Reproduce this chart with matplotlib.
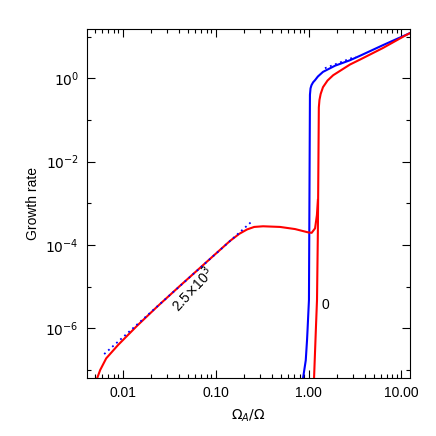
import matplotlib
matplotlib.use('Agg')
import matplotlib.pyplot as plt
import numpy as np
from matplotlib.ticker import NullFormatter, FixedLocator

plt.rcParams['font.family'] = ['Liberation Sans', 'DejaVu Sans']

# red curve, low-frequency branch (Omega_A/Omega, growth rate)
red_lo_x = [0.0050, 0.00532, 0.00573, 0.00665, 0.00895, 0.0143, 0.0235, 0.0415, 0.068,
            0.143, 0.18, 0.218, 0.26, 0.324, 0.494, 0.716, 0.989, 1.08, 1.175, 1.23, 1.26]
red_lo_y = [3e-8, 6.4e-8, 1.0e-7, 1.9e-7, 4.0e-7, 1.15e-6, 3.3e-6, 1.05e-5, 2.82e-5,
            1.25e-4, 1.85e-4, 2.35e-4, 2.7e-4, 2.8e-4, 2.7e-4, 2.4e-4, 2.0e-4, 1.95e-4,
            2.5e-4, 5.2e-4, 1.2e-3]

# red curve, high branch
red_hi_x = [1.13, 1.146, 1.20, 1.233, 1.26, 1.29, 1.31, 1.35, 1.43, 1.6, 1.84, 2.79, 3.58,
            6.3, 10.9, 12.3]
red_hi_y = [3e-8, 6.4e-8, 1e-6, 4.8e-6, 2.2e-4, 0.2, 0.3, 0.42, 0.61, 0.88, 1.18, 2.13, 2.8,
            5.3, 10.5, 12.0]

# blue curve
blue_x = [0.86, 0.873, 0.933, 0.963, 0.975, 1.01, 1.035, 1.05, 1.075, 1.12, 1.175, 1.26,
          1.43, 1.93, 2.79, 3.58, 6.3, 10.9, 12.3]
blue_y = [3e-8, 6.4e-8, 1.7e-7, 5.2e-7, 9e-7, 4.8e-6, 0.4, 0.57, 0.68, 0.8, 0.9, 1.1,
          1.42, 2.0, 2.7, 3.46, 6.2, 10.7, 12.1]

# asymptotes (dotted)
asym_lo_x = [0.00632, 0.253]
asym_lo_y = [2.4e-7, 3.9e-4]
asym_hi_x = [1.50, 3.2]
asym_hi_y = [1.74, 3.3]

xticks = [0.01, 0.1, 1.0, 10.0]
xticklabels = ['0.01', '0.10', '1.00', '10.00']
yticks = [1e-6, 1e-4, 1e-2, 1e0]
yticklabels = [r'$10^{-6}$', r'$10^{-4}$', r'$10^{-2}$', r'$10^{0}$']
yminor = [1e-7, 1e-5, 1e-3, 1e-1, 1e1]

fig = plt.figure(figsize=(4.36, 4.36), dpi=100)
ax = fig.add_axes([0.2, 0.133, 0.74, 0.80])

ax.plot(blue_x, blue_y, color='blue', lw=1.5)
ax.plot(red_lo_x, red_lo_y, color='red', lw=1.5)
ax.plot(red_hi_x, red_hi_y, color='red', lw=1.5)
ax.plot(asym_lo_x, asym_lo_y, color='blue', lw=1.3, ls=(0, (1, 2)))
ax.plot(asym_hi_x, asym_hi_y, color='blue', lw=1.3, ls=(0, (1, 2)))

ax.set_xscale('log')
ax.set_yscale('log')
ax.set_xlim(0.00415, 12.3)
ax.set_ylim(6.4e-8, 15)

ax.set_xticks(xticks)
ax.set_xticklabels(xticklabels)
ax.set_yticks(yticks)
ax.set_yticklabels(yticklabels)
ax.yaxis.set_minor_locator(FixedLocator(yminor))
ax.yaxis.set_minor_formatter(NullFormatter())
ax.xaxis.set_minor_formatter(NullFormatter())

ax.tick_params(which='both', direction='in', top=True, right=True, labelsize=10, width=0.8)
ax.tick_params(which='major', length=6, pad=6)
ax.tick_params(which='minor', length=3)
for s in ax.spines.values():
    s.set_linewidth(0.8)

ax.set_xlabel(r'$\Omega_A/\Omega$', fontsize=10, labelpad=5)
ax.set_ylabel('Growth rate', fontsize=10, labelpad=4)

ax.text(0.057, 9e-6, r'2.5$\times$10$^3$', rotation=47, fontsize=10,
        ha='center', va='center')
ax.text(1.50, 3.6e-6, '0', fontsize=10, ha='center', va='center')

fig.savefig('out.png', dpi=100)
